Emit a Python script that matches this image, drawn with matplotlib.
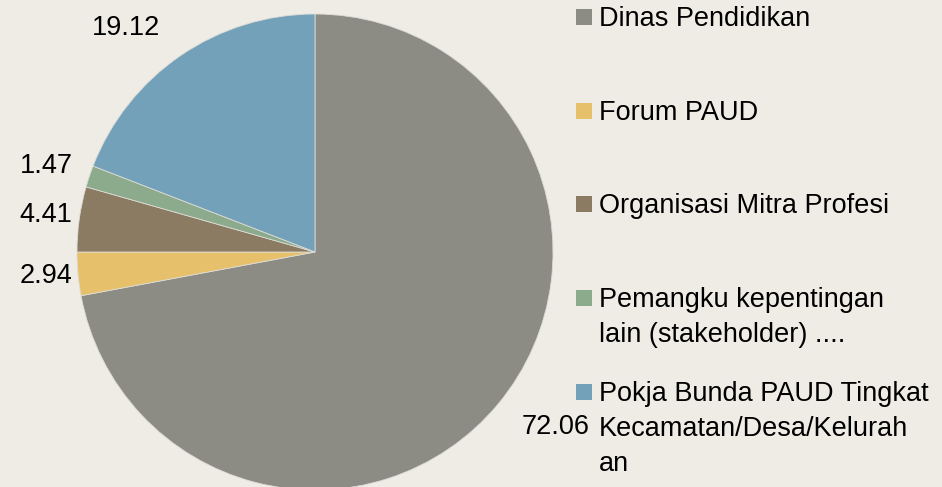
import matplotlib
matplotlib.use("Agg")
import matplotlib.pyplot as plt
from matplotlib.patches import Rectangle

categories = ["Dinas Pendidikan", "Forum PAUD", "Organisasi Mitra Profesi",
              "Pemangku kepentingan\nlain (stakeholder) ....",
              "Pokja Bunda PAUD Tingkat\nKecamatan/Desa/Kelurah\nan"]
values = [72.06, 2.94, 4.41, 1.47, 19.12]
value_labels = ["72.06", "2.94", "4.41", "1.47", "19.12"]
colors = ["#8C8C85", "#E6C06B", "#8A7B62", "#8CAA8C", "#74A1BA"]

bg = "#EEECE4"
W, H = 942, 487
fig = plt.figure(figsize=(W / 100, H / 100), dpi=100, facecolor=bg)
plt.rcParams['font.family'] = ['Liberation Sans', 'DejaVu Sans']

cx, cy, r = 315, 252, 238
ax = fig.add_axes([(cx - r) / W, (H - cy - r) / H, 2 * r / W, 2 * r / H])
ax.set_facecolor(bg)
wedges, _ = ax.pie(values, colors=colors, startangle=90, counterclock=False,
                   radius=1, wedgeprops=dict(edgecolor="#DCDCD6", linewidth=0.6))
ax.set_xlim(-1, 1)
ax.set_ylim(-1, 1)
ax.set_aspect('equal')
ax.axis('off')

def d(px, py):
    return (px - cx) / r, (cy - py) / r

fs = 19.5
label_pos = [(590, 427, 'right'), (46, 276, 'center'), (46, 215, 'center'),
             (46, 166, 'center'), (126, 28, 'center')]
for lab, (px, py, ha) in zip(value_labels, label_pos):
    x, y = d(px, py)
    ax.text(x, y, lab, ha=ha, va='center', fontsize=fs, color='black', clip_on=False)

# legend
sq = 16
for i, (lab, col) in enumerate(zip(categories, colors)):
    ycen = 17 + i * 93.7
    fig.add_artist(Rectangle((576 / W, 1 - (ycen + sq / 2) / H), sq / W, sq / H,
                             transform=fig.transFigure, facecolor=col, edgecolor='none'))
    for j, line in enumerate(lab.split("\n")):
        base = ycen + 9 + j * 35
        fig.text(599 / W, 1 - base / H, line, ha='left', va='baseline', fontsize=fs,
                 color='black')

fig.savefig("out.png", dpi=100, facecolor=bg)
